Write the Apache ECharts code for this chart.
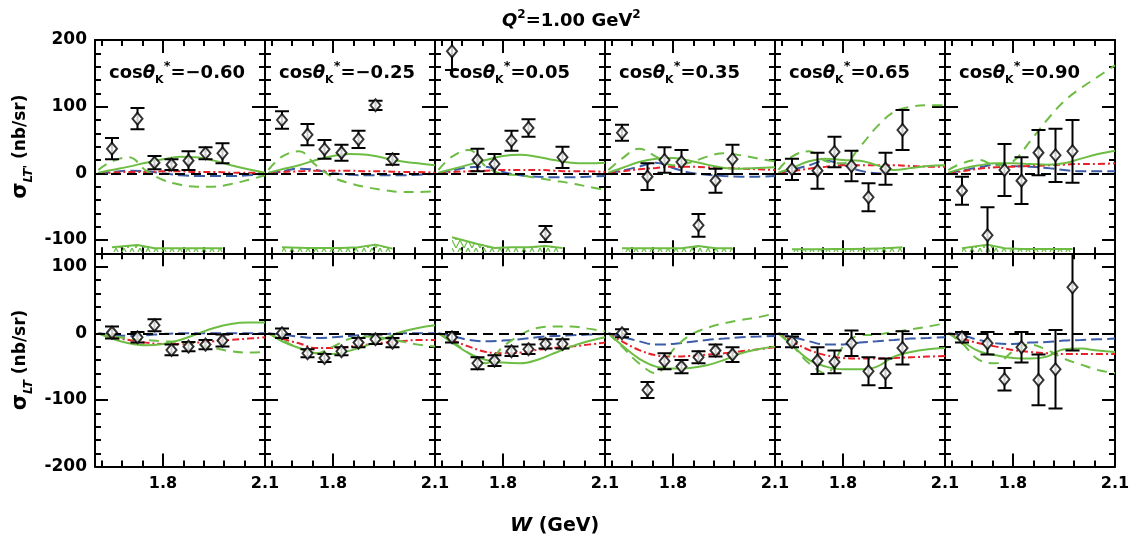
<!DOCTYPE html>
<html>
<head>
<meta charset="utf-8">
<script src="https://cdn.jsdelivr.net/npm/echarts@6/dist/echarts.min.js"></script>
<style>html,body{margin:0;padding:0;background:#fff}#chart{width:1136px;height:543px}</style>
</head>
<body>
<div id="chart"></div>
<script>
// panel labels and W grids
var cosLabels = ['\u22120.60', '\u22120.25', '0.05', '0.35', '0.65', '0.90'];
var wPoints = [1.65, 1.725, 1.775, 1.825, 1.875, 1.925, 1.975];
var wCurve = [1.61, 1.65, 1.7, 1.75, 1.8, 1.85, 1.9, 1.95, 2.0, 2.05, 2.1];
var xMinorTicks = [1.62, 1.68, 1.74, 1.8, 1.86, 1.92, 1.98, 2.04, 2.1];
var xMajorTicks = [1.8];
var xTickLabels = [1.8, 2.1];

// sigma_LT' (top row)
var ltpVal = [
  [37, 82, 16, 13, 19, 30, 30],
  [80, 58, 36, 31, 51, 102, 21],
  [183, 20, 14, 49, 68, -91, 24],
  [61, -5, 20, 17, -78, -11, 21],
  [6, 4, 32, 11, -36, 7, 65],
  [-26, -93, 5, -11, 31, 27, 33]
];
var ltpErr = [
  [16, 16, 10, 8, 14, 9, 15],
  [13, 16, 14, 12, 13, 7, 8],
  [28, 17, 15, 15, 13, 12, 16],
  [12, 20, 19, 18, 17, 18, 22],
  [16, 27, 23, 23, 21, 24, 30],
  [21, 42, 39, 35, 34, 40, 47]
];
var ltpSys = [
  [7, 10.5, 5.5, 5.5, 5.5, 5.5, 5.5],
  [7, 6, 6, 6, 7, 11, 5],
  [22, 12, 6, 7, 7, 9, 6],
  [5.5, 5.5, 5.5, 5.5, 9, 5.5, 5.5],
  [4, 4, 4.5, 4.5, 5, 5.5, 7],
  [5.5, 11, 5.5, 4.5, 4.5, 4.5, 4.5]
];
var ltpBlue = [
  [0, 2, 4, 3, 0, -3, -4, -4, -4, -3, -1],
  [0, 3, 7, 5, 0, -2, -3, -3, -3, -2, -1],
  [0, 4, 9, 10, 2, -3, -5, -6, -6, -5, -4],
  [0, 4, 10, 16, 8, 1, -2, -4, -5, -5, -4],
  [0, 5, 12, 19, 13, 4, 0, -1, -1, -1, -1],
  [0, 4, 9, 13, 11, 10, 8, 5, 3, 3, 3]
];
var ltpRed = [
  [0, 1, 2, 2, 3, 3, 2, 2, 1, 1, 1],
  [0, 2, 3, 4, 4, 4, 3, 3, 2, 2, 1],
  [0, 2, 3, 4, 5, 5, 5, 4, 3, 3, 2],
  [0, 3, 6, 8, 10, 10, 9, 8, 7, 6, 5],
  [0, 3, 7, 10, 12, 12, 12, 12, 11, 10, 10],
  [0, 3, 7, 9, 10, 11, 12, 13, 14, 14, 15]
];
var ltpGreen = [
  [1, 5, 10, 16, 21, 25, 24, 19, 12, 6, 1],
  [1, 6, 12, 20, 26, 29, 28, 23, 18, 15, 12],
  [1, 6, 13, 20, 26, 28, 25, 20, 16, 15, 16],
  [1, 8, 17, 22, 23, 19, 13, 8, 7, 8, 9],
  [1, 8, 18, 22, 20, 19, 12, 5, 8, 11, 12],
  [1, 7, 12, 15, 15, 14, 13, 15, 22, 29, 34]
];
var ltpGreenDash = [
  [5, 18, 24, 4, -10, -17, -20, -20, -16, -10, -3],
  [5, 25, 33, 12, -6, -15, -21, -25, -28, -28, -27],
  [5, 25, 35, 10, -1, -3, -7, -11, -15, -20, -25],
  [5, 22, 37, 25, 12, 16, 25, 30, 27, 22, 18],
  [5, 25, 33, 18, 15, 40, 70, 92, 100, 102, 102],
  [5, 15, 20, 12, 18, 48, 80, 108, 128, 145, 162]
];

// sigma_LT (bottom row)
var ltVal = [
  [1, -6, 12, -25, -20, -17, -11],
  [0, -30, -37, -27, -14, -9, -14],
  [-6, -45, -41, -27, -24, -16, -16],
  [0, -85, -42, -50, -36, -26, -32],
  [-13, -41, -43, -15, -57, -60, -22],
  [-6, -15, -69, -21, -70, -54, 69]
];
var ltErr = [
  [9, 8, 9, 8, 7, 7, 9],
  [7, 6, 6, 6, 7, 7, 7],
  [8, 9, 8, 7, 7, 7, 7],
  [6, 12, 12, 10, 9, 9, 11],
  [8, 20, 17, 19, 21, 22, 25],
  [8, 17, 17, 23, 38, 59, 95]
];
var ltBlue = [
  [0, -2, -4, -3, -1, 0, 0, 0, 0, 0, 0],
  [0, -2, -5, -7, -6, -4, -2, -1, 0, 0, 0],
  [0, -4, -10, -12, -11, -9, -6, -4, -3, -2, -1],
  [0, -5, -12, -17, -16, -13, -10, -8, -6, -5, -4],
  [0, -5, -12, -17, -17, -14, -12, -10, -8, -7, -6],
  [0, -3, -10, -15, -16, -14, -13, -11, -10, -9, -8]
];
var ltRed = [
  [0, -6, -10, -14, -16, -16, -14, -12, -10, -8, -6],
  [0, -8, -15, -22, -22, -20, -17, -14, -12, -10, -10],
  [0, -10, -20, -28, -30, -29, -25, -22, -20, -17, -14],
  [0, -12, -25, -33, -35, -34, -32, -30, -27, -24, -21],
  [0, -12, -25, -33, -37, -38, -38, -37, -36, -35, -34],
  [0, -8, -15, -20, -25, -28, -30, -31, -31, -31, -31]
];
var ltGreen = [
  [0, -8, -15, -18, -16, -10, -1, 8, 14, 16, 16],
  [0, -12, -22, -30, -31, -26, -18, -8, 2, 8, 12],
  [0, -14, -30, -40, -44, -45, -40, -30, -20, -12, -6],
  [0, -18, -38, -50, -53, -52, -48, -40, -30, -24, -20],
  [0, -18, -40, -50, -54, -54, -50, -35, -28, -24, -22],
  [0, -12, -27, -33, -37, -38, -35, -24, -23, -26, -28]
];
var ltGreenDash = [
  [0, -4, -8, -10, -12, -13, -17, -22, -27, -29, -28],
  [0, -10, -22, -30, -20, -8, -5, -7, -12, -17, -20],
  [0, -12, -30, -45, -20, -3, 8, 10, 10, 7, 3],
  [0, -20, -45, -60, -25, -3, 8, 15, 20, 24, 30],
  [0, -18, -45, -60, -20, -3, -2, 2, 6, 10, 15],
  [0, -15, -40, -45, -27, -17, -25, -38, -47, -55, -60]
];

var GREEN = '#6dbd45', BLUE = '#3b5ca8', RED = '#e8202a';
var FONT = 'DejaVu Sans';
var chart = echarts.init(document.getElementById('chart'));

function steps(a, b, s) {
  var out = [];
  for (var v = a; v <= b + 1e-9; v += s) out.push(Math.round(v));
  return out;
}
function pairs(xs, ys) {
  return xs.map(function (x, i) { return [x, ys[i]]; });
}

// hatch for the systematic band
var pat = document.createElement('canvas');
pat.width = 8; pat.height = 8;
var pc = pat.getContext('2d');
pc.strokeStyle = GREEN; pc.lineWidth = 1.2;
pc.beginPath(); pc.moveTo(0, 8); pc.lineTo(4, 0); pc.lineTo(8, 8); pc.stroke();

function xAx(gi, pos, ticks, len, line, labels) {
  return {
    gridIndex: gi, type: 'value', min: 1.6, max: 2.1, position: pos,
    axisLine: {show: line, onZero: false, lineStyle: {color: '#000', width: 2}},
    axisTick: {show: true, inside: true, length: len, customValues: ticks, lineStyle: {color: '#000', width: 2}},
    axisLabel: labels ? {show: true, customValues: labels, color: '#000', fontSize: 16, fontWeight: 'bold', fontFamily: FONT,
      margin: 9, formatter: function (v) { return v.toFixed(1); }} : {show: false},
    splitLine: {show: false}
  };
}
function yAx(gi, pos, mn, mx, ticks, len, line, labels, name) {
  var a = {
    gridIndex: gi, type: 'value', min: mn, max: mx, position: pos,
    axisLine: {show: line, onZero: false, lineStyle: {color: '#000', width: 2}},
    axisTick: {show: true, inside: true, length: len, customValues: ticks, lineStyle: {color: '#000', width: 2}},
    axisLabel: labels ? {show: true, customValues: labels, color: '#000', fontSize: 17, fontWeight: 'bold', fontFamily: FONT, margin: 8} : {show: false},
    splitLine: {show: false}
  };
  if (name) {
    a.name = name;
    a.nameLocation = 'middle';
    a.nameRotate = 90;
    a.nameGap = 60;
    a.nameTextStyle = {color: '#000', fontFamily: FONT, rich: {
      s: {fontSize: 21, fontWeight: 'bold', fontFamily: FONT, lineHeight: 28, verticalAlign: 'middle'},
      b: {fontSize: 12, fontWeight: 'bold', fontStyle: 'italic', fontFamily: FONT, lineHeight: 28, verticalAlign: 'bottom'},
      n: {fontSize: 17, fontWeight: 'bold', fontFamily: FONT, lineHeight: 28, verticalAlign: 'middle'}
    }};
  }
  return a;
}

function errBar(params, api) {
  var p1 = api.coord([api.value(0), api.value(1)]);
  var p2 = api.coord([api.value(0), api.value(2)]);
  var h = 7, st = {stroke: '#000', lineWidth: 2};
  return {type: 'group', children: [
    {type: 'line', shape: {x1: p1[0], y1: p1[1], x2: p2[0], y2: p2[1]}, style: st},
    {type: 'line', shape: {x1: p1[0] - h, y1: p1[1], x2: p1[0] + h, y2: p1[1]}, style: st},
    {type: 'line', shape: {x1: p2[0] - h, y1: p2[1], x2: p2[0] + h, y2: p2[1]}, style: st}
  ]};
}

var grids = [], xAxes = [], yAxes = [], series = [], titles = [];

for (var r = 0; r < 2; r++) {
  for (var c = 0; c < 6; c++) {
    var gi = grids.length, isTop = r === 0;
    grids.push({left: 95 + 170 * c, top: isTop ? 40 : 253.3, width: 170, height: 213.3});
    var mn = isTop ? -120 : -200, mx = isTop ? 200 : 120;
    var minor = steps(mn, mx, 20);
    var major = isTop ? [-100, 0, 100, 200] : [-200, -100, 0, 100];
    xAxes.push(xAx(gi, 'bottom', xMinorTicks, 6, true, isTop ? null : xTickLabels));
    xAxes.push(xAx(gi, 'top', xMinorTicks, 6, true, null));
    xAxes.push(xAx(gi, 'bottom', xMajorTicks, 13, false, null));
    xAxes.push(xAx(gi, 'top', xMajorTicks, 13, false, null));
    var nm = null;
    if (c === 0) nm = isTop ? "{s|\u03c3}{b|LT'}{n| (nb/sr)}" : '{s|\u03c3}{b|LT}{n| (nb/sr)}';
    yAxes.push(yAx(gi, 'left', mn, mx, minor, 6, true, c === 0 ? major : null, nm));
    yAxes.push(yAx(gi, 'right', mn, mx, minor, 6, true, null, null));
    yAxes.push(yAx(gi, 'left', mn, mx, major, 13, false, null, null));
    yAxes.push(yAx(gi, 'right', mn, mx, major, 13, false, null, null));

    var ai = 4 * gi;
    var val = isTop ? ltpVal[c] : ltVal[c];
    var err = isTop ? ltpErr[c] : ltErr[c];
    var base = {xAxisIndex: ai, yAxisIndex: ai, type: 'line', showSymbol: false, smooth: 0.4, clip: true, silent: true};

    if (isTop) {
      series.push(Object.assign({}, base, {
        smooth: false,
        data: pairs(wPoints, ltpSys[c].map(function (s) { return -118 + s; })),
        lineStyle: {color: GREEN, width: 2},
        areaStyle: {origin: -118, color: {image: pat, repeat: 'repeat'}, opacity: 1}
      }));
    }
    series.push(Object.assign({}, base, {
      data: pairs(wCurve, isTop ? ltpBlue[c] : ltBlue[c]),
      lineStyle: {color: BLUE, width: 2, type: [11, 5]},
      markLine: {silent: true, symbol: 'none', label: {show: false},
        lineStyle: {color: '#000', width: 2, type: [10, 6]}, data: [{yAxis: 0}]}
    }));
    series.push(Object.assign({}, base, {
      data: pairs(wCurve, isTop ? ltpRed[c] : ltRed[c]),
      lineStyle: {color: RED, width: 2, type: [7, 3, 2, 3]}
    }));
    series.push(Object.assign({}, base, {
      data: pairs(wCurve, isTop ? ltpGreenDash[c] : ltGreenDash[c]),
      lineStyle: {color: GREEN, width: 2, type: [10, 7]}
    }));
    series.push(Object.assign({}, base, {
      data: pairs(wCurve, isTop ? ltpGreen[c] : ltGreen[c]),
      lineStyle: {color: GREEN, width: 2}
    }));
    series.push({
      type: 'custom', xAxisIndex: ai, yAxisIndex: ai, clip: true, silent: true, z: 5,
      renderItem: errBar,
      data: wPoints.map(function (w, i) { return [w, val[i] - err[i], val[i] + err[i]]; })
    });
    series.push({
      type: 'scatter', xAxisIndex: ai, yAxisIndex: ai, clip: true, silent: true, z: 6,
      symbol: 'diamond', symbolSize: [10, 12],
      itemStyle: {color: '#fff', borderColor: '#000', borderWidth: 2},
      data: pairs(wPoints, val)
    });

    if (isTop) {
      titles.push({
        text: '{c|cos}{t|\u03b8}{k|K}{s|*}{c|=' + cosLabels[c] + '}',
        left: 104 + 170 * c, top: 55,
        textStyle: {rich: {
          c: {fontSize: 18, fontWeight: 'bold', fontFamily: FONT, color: '#000', lineHeight: 26, verticalAlign: 'middle'},
          t: {fontSize: 18, fontWeight: 'bold', fontStyle: 'italic', fontFamily: FONT, color: '#000', lineHeight: 26, verticalAlign: 'middle'},
          k: {fontSize: 11, fontWeight: 'bold', fontFamily: FONT, color: '#000', lineHeight: 26, verticalAlign: 'bottom'},
          s: {fontSize: 13, fontWeight: 'bold', fontFamily: FONT, color: '#000', lineHeight: 26, verticalAlign: 'top'}
        }}
      });
    }
  }
}

titles.push({
  text: '{q|Q}{s|2}{n|=1.00 GeV}{s|2}', left: 497, top: 4,
  textStyle: {rich: {
    q: {fontSize: 18, fontWeight: 'bold', fontStyle: 'italic', fontFamily: FONT, color: '#000', lineHeight: 24, verticalAlign: 'middle'},
    n: {fontSize: 18, fontWeight: 'bold', fontFamily: FONT, color: '#000', lineHeight: 24, verticalAlign: 'middle'},
    s: {fontSize: 12, fontWeight: 'bold', fontFamily: FONT, color: '#000', lineHeight: 24, verticalAlign: 'top'}
  }}
});
titles.push({
  text: '{w|W}{n| (GeV)}', left: 505, top: 511,
  textStyle: {rich: {
    w: {fontSize: 20, fontWeight: 'bold', fontStyle: 'italic', fontFamily: FONT, color: '#000'},
    n: {fontSize: 19, fontWeight: 'bold', fontFamily: FONT, color: '#000'}
  }}
});

chart.setOption({
  animation: false,
  backgroundColor: '#fff',
  title: titles,
  grid: grids,
  xAxis: xAxes,
  yAxis: yAxes,
  series: series
});
</script>
</body>
</html>
